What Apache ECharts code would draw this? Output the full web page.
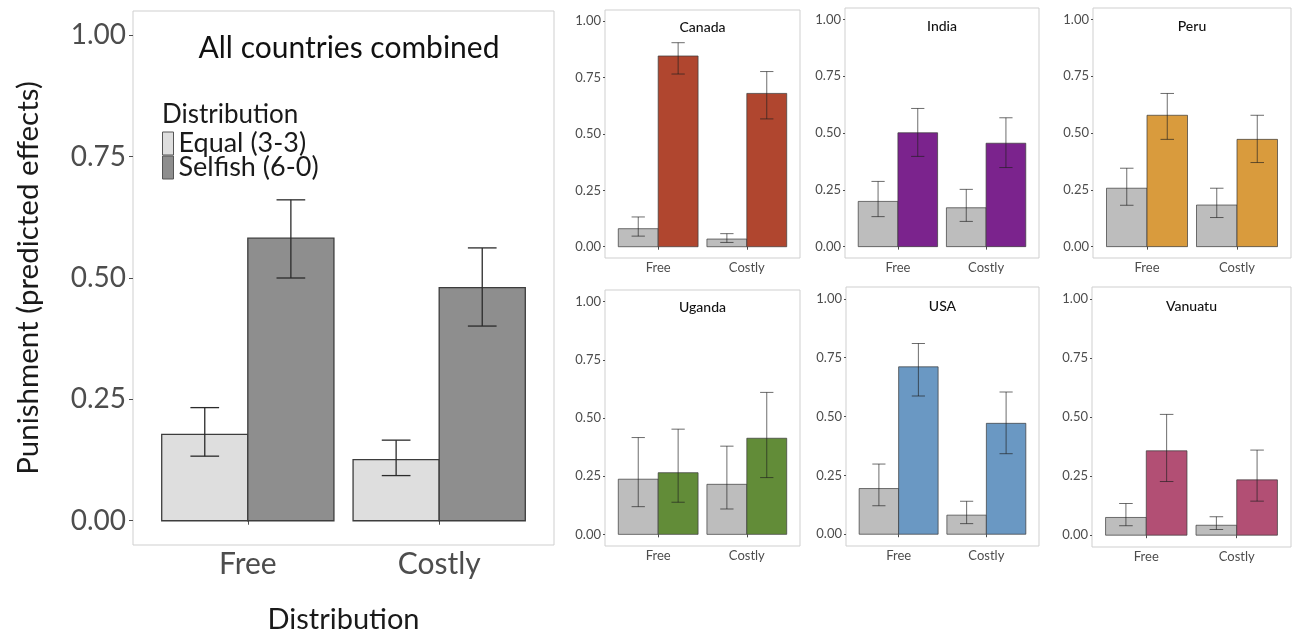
<!DOCTYPE html>
<html>
<head>
<meta charset="utf-8">
<script src="https://cdn.jsdelivr.net/npm/echarts@6/dist/echarts.min.js"></script>
<style>
html,body{margin:0;padding:0;background:#fff;}
#c{width:1300px;height:633px;}
</style>
</head>
<body>
<div id="c"></div>
<script>
// ---- data ----
const categories = ['Free', 'Costly'];
const yTicks = [0, 0.25, 0.5, 0.75, 1];
const legendNames = ['Equal (3-3)', 'Selfish (6-0)'];
// each entry per category: [estimate, lower, upper]
const allEqual   = [[0.178, 0.133, 0.233], [0.126, 0.093, 0.166]];
const allSelfish = [[0.582, 0.500, 0.661], [0.480, 0.401, 0.562]];
const canadaEqual   = [[0.080, 0.047, 0.132], [0.034, 0.019, 0.058]];
const canadaSelfish = [[0.846, 0.766, 0.905], [0.680, 0.567, 0.777]];
const indiaEqual   = [[0.199, 0.132, 0.287], [0.171, 0.111, 0.252]];
const indiaSelfish = [[0.501, 0.397, 0.608], [0.455, 0.348, 0.567]];
const peruEqual   = [[0.257, 0.182, 0.345], [0.183, 0.128, 0.257]];
const peruSelfish = [[0.578, 0.472, 0.674], [0.472, 0.370, 0.578]];
const ugandaEqual   = [[0.237, 0.119, 0.416], [0.215, 0.109, 0.379]];
const ugandaSelfish = [[0.265, 0.138, 0.452], [0.413, 0.244, 0.610]];
const usaEqual   = [[0.194, 0.121, 0.298], [0.081, 0.045, 0.140]];
const usaSelfish = [[0.711, 0.587, 0.810], [0.471, 0.342, 0.604]];
const vanuatuEqual   = [[0.075, 0.040, 0.134], [0.042, 0.024, 0.078]];
const vanuatuSelfish = [[0.357, 0.227, 0.511], [0.234, 0.144, 0.360]];

// ---- layout / style ----
const FONT = 'Lato, "Noto Sans", sans-serif';
const panels = [
  {title: 'All countries combined', eq: allEqual, sf: allSelfish, big: true,
   grid: {left: 133, top: 11, width: 421, height: 534}, eqColor: '#dedede', sfColor: '#8e8e8e', titleTop: 34},
  {title: 'Canada', eq: canadaEqual, sf: canadaSelfish,
   grid: {left: 605, top: 10, width: 195, height: 248}, eqColor: '#bdbdbd', sfColor: '#b0462f', titleTop: 20},
  {title: 'India', eq: indiaEqual, sf: indiaSelfish,
   grid: {left: 845, top: 8, width: 194, height: 250}, eqColor: '#bdbdbd', sfColor: '#7b238d', titleTop: 19},
  {title: 'Peru', eq: peruEqual, sf: peruSelfish,
   grid: {left: 1093, top: 8, width: 198, height: 250}, eqColor: '#bdbdbd', sfColor: '#d99b3d', titleTop: 19},
  {title: 'Uganda', eq: ugandaEqual, sf: ugandaSelfish,
   grid: {left: 605, top: 290, width: 195, height: 256}, eqColor: '#bdbdbd', sfColor: '#628c38', titleTop: 300},
  {title: 'USA', eq: usaEqual, sf: usaSelfish,
   grid: {left: 846, top: 287, width: 193, height: 259}, eqColor: '#bdbdbd', sfColor: '#6a98c3', titleTop: 299},
  {title: 'Vanuatu', eq: vanuatuEqual, sf: vanuatuSelfish,
   grid: {left: 1092, top: 287, width: 199, height: 260}, eqColor: '#bdbdbd', sfColor: '#b24f74', titleTop: 299}
];

function makeRender(side, big) {
  const barW = 0.45, capHalf = 0.075;
  return function (params, api) {
    const x = api.value(0), v = api.value(1), lo = api.value(2), hi = api.value(3);
    const x0 = side < 0 ? x - barW : x;
    const xc = x0 + barW / 2;
    const p0 = api.coord([x0, v]);
    const p1 = api.coord([x0 + barW, 0]);
    const t = api.coord([xc, hi]), b = api.coord([xc, lo]);
    const tl = api.coord([xc - capHalf, hi]), tr = api.coord([xc + capHalf, hi]);
    const bl = api.coord([xc - capHalf, lo]), br = api.coord([xc + capHalf, lo]);
    const fill = api.visual('color');
    const barStroke = big ? '#3d3d3d' : 'rgba(60,60,60,0.8)';
    const errStroke = big ? '#2b2b2b' : 'rgba(30,30,30,0.65)';
    const lw = big ? 1.3 : 0.9;
    const elw = big ? 1.3 : 1;
    return {
      type: 'group',
      children: [
        {type: 'rect', shape: {x: p0[0], y: p0[1], width: p1[0] - p0[0], height: p1[1] - p0[1]},
         style: {fill: fill, stroke: barStroke, lineWidth: lw}},
        {type: 'line', shape: {x1: t[0], y1: t[1], x2: b[0], y2: b[1]}, style: {stroke: errStroke, lineWidth: elw}},
        {type: 'line', shape: {x1: tl[0], y1: tl[1], x2: tr[0], y2: tr[1]}, style: {stroke: errStroke, lineWidth: elw}},
        {type: 'line', shape: {x1: bl[0], y1: bl[1], x2: br[0], y2: br[1]}, style: {stroke: errStroke, lineWidth: elw}}
      ]
    };
  };
}

const grids = [], xAxes = [], yAxes = [], series = [], titles = [];
panels.forEach((p, i) => {
  const big = !!p.big;
  grids.push(Object.assign({show: true, borderColor: '#cfcfcf', borderWidth: 1, backgroundColor: '#fff',
    containLabel: false, outerBoundsMode: 'none'}, p.grid));
  xAxes.push({
    type: 'value', gridIndex: i, min: 0.4, max: 2.6,
    axisLine: {show: false}, splitLine: {show: false},
    axisTick: {show: true, customValues: [1, 2], length: big ? 4 : 3, lineStyle: {color: '#4d4d4d'}},
    axisLabel: {customValues: [1, 2], formatter: v => categories[Math.round(v) - 1],
      fontSize: big ? 30 : 13, color: '#4d4d4d', fontFamily: FONT, margin: big ? 4 : 3},
    name: big ? 'Distribution' : '', nameLocation: 'middle', nameGap: 60,
    nameTextStyle: {fontSize: 29, color: '#1a1a1a', fontFamily: FONT}
  });
  yAxes.push({
    type: 'value', gridIndex: i, min: -0.05, max: 1.05,
    axisLine: {show: false}, splitLine: {show: false},
    axisTick: {show: true, customValues: yTicks, length: big ? 4 : 2, lineStyle: {color: '#4d4d4d'}},
    axisLabel: {customValues: yTicks, formatter: v => v.toFixed(2),
      fontSize: big ? 28 : 13, color: '#4d4d4d', fontFamily: FONT, margin: big ? 7 : 4},
    name: big ? 'Punishment (predicted effects)' : '', nameLocation: 'middle', nameGap: 90, nameRotate: 90,
    nameTextStyle: {fontSize: 29.5, color: '#1a1a1a', fontFamily: FONT}
  });
  const toData = arr => arr.map((d, k) => [k + 1, d[0], d[1], d[2]]);
  series.push({
    type: 'custom', name: big ? legendNames[0] : p.title + ' ' + legendNames[0],
    xAxisIndex: i, yAxisIndex: i, renderItem: makeRender(-1, big),
    itemStyle: {color: p.eqColor}, encode: {x: 0, y: [1, 2, 3]}, data: toData(p.eq), silent: true
  });
  series.push({
    type: 'custom', name: big ? legendNames[1] : p.title + ' ' + legendNames[1],
    xAxisIndex: i, yAxisIndex: i, renderItem: makeRender(1, big),
    itemStyle: {color: p.sfColor}, encode: {x: 0, y: [1, 2, 3]}, data: toData(p.sf), silent: true
  });
  titles.push({
    text: p.title, left: big ? 349 : p.grid.left + p.grid.width / 2, top: big ? 33 : p.titleTop, textAlign: 'center', padding: 0,
    textStyle: {fontSize: big ? 30 : 14, fontWeight: big ? 'normal' : 500, color: '#111', fontFamily: FONT}
  });
});
titles.push({text: 'Distribution', left: 162, top: 102, padding: 0,
  textStyle: {fontSize: 26, fontWeight: 'normal', color: '#1a1a1a', fontFamily: FONT}});

const option = {
  animation: false,
  backgroundColor: '#fff',
  title: titles,
  legend: {
    left: 162, top: 130, orient: 'vertical', padding: 0, itemGap: -3,
    itemWidth: 11, itemHeight: 23, selectedMode: false,
    textStyle: {fontSize: 27, color: '#1a1a1a', fontFamily: FONT, lineHeight: 23},
    data: [
      {name: legendNames[0], icon: 'rect', itemStyle: {color: '#dedede', borderColor: '#555', borderWidth: 1}},
      {name: legendNames[1], icon: 'rect', itemStyle: {color: '#8e8e8e', borderColor: '#555', borderWidth: 1}}
    ]
  },
  grid: grids, xAxis: xAxes, yAxis: yAxes, series: series
};
const chart = echarts.init(document.getElementById('c'), null, {renderer: 'canvas'});
chart.setOption(option);
</script>
</body>
</html>
